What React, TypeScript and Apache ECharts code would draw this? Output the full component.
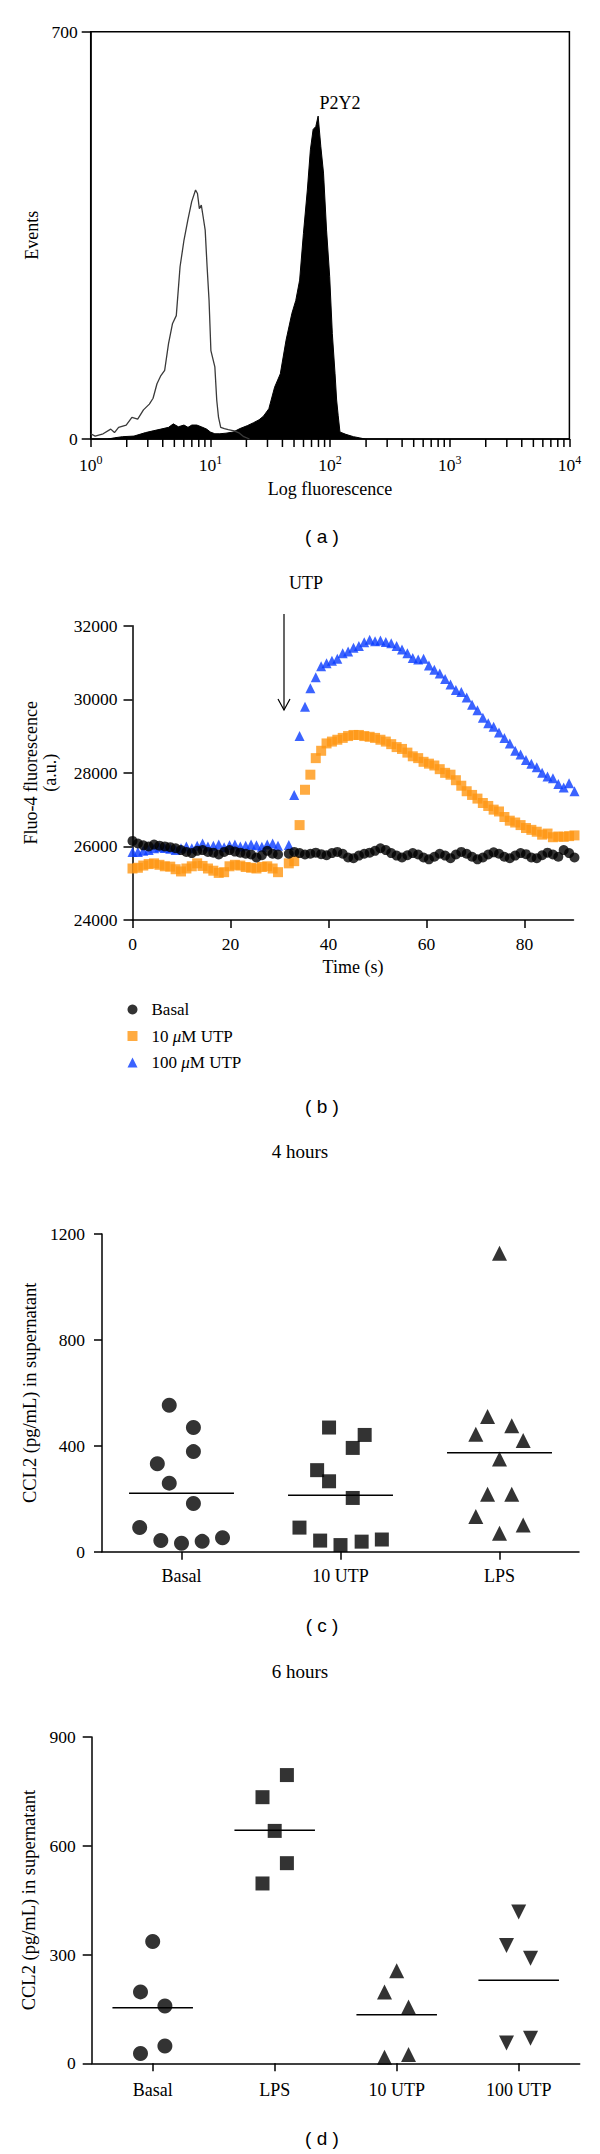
import React, { useEffect, useRef } from "react";
import * as echarts from "echarts";

const SERIF = "'Liberation Serif', 'Times New Roman', serif";
const SANS = "'Liberation Sans', Arial, sans-serif";

// ---------- Panel (a): flow cytometry histograms [fluorescence, events] ----------
const isotypeHist: [number, number][] = [
  [1.0, 9], [1.09, 5], [1.27, 9], [1.47, 17], [1.58, 11], [1.71, 20], [1.98, 24], [2.21, 37],
  [2.47, 34], [2.76, 50], [3.09, 60], [3.32, 70], [3.58, 95], [3.86, 109], [4.15, 118], [4.47, 164],
  [4.82, 198], [5.19, 212], [5.58, 296], [6.02, 342], [6.48, 376], [6.98, 408], [7.52, 428], [7.8, 422],
  [8.09, 396], [8.4, 402], [8.7, 382], [9.05, 359], [9.39, 296], [9.75, 238], [10.1, 152], [10.9, 124],
  [11.3, 67], [11.7, 37], [12.2, 20], [13.1, 18], [14.1, 16], [15.8, 14], [17.5, 10], [19.0, 4], [21.2, 0],
];
const p2y2Hist: [number, number][] = [
  [1.4, 0], [1.58, 2], [1.84, 4], [2.3, 5], [2.87, 11], [3.32, 14], [3.86, 17], [4.47, 20], [4.9, 26],
  [5.4, 21], [6.02, 24], [6.5, 20], [7.0, 24], [7.7, 24], [8.4, 21], [9.3, 17], [10.0, 12], [10.9, 9],
  [12.0, 9], [13.5, 10], [15.5, 12], [17.7, 18], [20.4, 23], [22.9, 28], [25.5, 33], [27.7, 39],
  [30.8, 52], [34.4, 89], [38.4, 112], [42.9, 170], [48.0, 216], [51.7, 238], [55.7, 273], [59.9, 353],
  [64.6, 428], [68.5, 497], [72.2, 532], [76.0, 537], [79.5, 555], [83.7, 503], [88.2, 457], [93.5, 359],
  [99.3, 279], [104.5, 181], [110.1, 112], [113.5, 67], [117, 40], [121, 12], [135.5, 8], [157, 4],
  [176, 2], [196, 0],
];
const logDecades = [1, 10, 100, 1000];
const logMinorTicks: number[] = [];
logDecades.forEach((d) => {
  for (let k = 2; k <= 9; k++) logMinorTicks.push(k * d);
});

// ---------- Panel (b): Fluo-4 time course ----------
const TIME_STEP_S = 1.1;
const basalFluo: (number | null)[] = [
  26150, 26080, 26030, 26000, 26050, 26020, 26000, 25980, 25950, 25900,
  25850, 25820, 25880, 25900, 25850, 25830, 25780, 25850, 25900, 25860,
  25830, 25800, 25780, 25700, 25760, 25880, 25800, 25780,
  null,
  25800, 25850, 25820, 25780, 25800, 25830, 25790, 25760, 25820, 25850,
  25800, 25700, 25680, 25750, 25800, 25830, 25880, 25950, 25900, 25820,
  25750, 25700, 25760, 25820, 25780, 25700, 25650, 25720, 25800, 25750,
  25680, 25780, 25850, 25800, 25720, 25650, 25700, 25780, 25840, 25800,
  25720, 25680, 25750, 25820, 25790, 25700, 25680, 25760, 25830, 25780,
  25720, 25900, 25820, 25700,
];
const utp10Fluo: (number | null)[] = [
  25400, 25420, 25480, 25520, 25540, 25500, 25460, 25450, 25380, 25320,
  25400, 25460, 25540, 25470, 25400, 25340, 25280, 25300, 25460, 25500,
  25480, 25440, 25420, 25400, 25440, 25460, 25400, 25300,
  null,
  25540, 25600, 26580, 27540, 27950, 28400, 28600, 28800, 28850, 28900,
  28950, 29000, 29030, 29030, 29000, 28980, 28950, 28900, 28850, 28780,
  28700, 28650, 28550, 28450, 28400, 28300, 28250, 28200, 28100, 28000,
  27950, 27800, 27650, 27500, 27400, 27300, 27180, 27100, 27000, 26950,
  26800, 26700, 26650, 26580, 26500, 26450, 26400, 26320, 26350, 26250,
  26270, 26260, 26280, 26300,
];
const utp100Fluo: (number | null)[] = [
  25850, 25850, 25880, 25900, 25950, 25980, 25960, 25940, 25900, 25950,
  26000, 25950, 26020, 26080, 26000, 26020, 26050, 25980, 26030, 26050,
  26000, 26020, 26050, 26030, 25990, 26050, 26080, 26020,
  null,
  26040, 27400, 29000, 29800, 30300, 30600, 30900, 30980, 31050, 31100,
  31250, 31300, 31400, 31450, 31550, 31620, 31580, 31600, 31560, 31520,
  31450, 31350, 31250, 31120, 31080, 31100, 30920, 30800, 30700, 30550,
  30400, 30250, 30200, 30050, 29850, 29700, 29500, 29350, 29250, 29100,
  28950, 28800, 28600, 28500, 28350, 28250, 28150, 28000, 27900, 27850,
  27700, 27600, 27720, 27500,
];
const timeTicks = [0, 20, 40, 60, 80];

// ---------- Panel (c): CCL2 at 4 hours ----------
const cats4h = ["Basal", "10 UTP", "LPS"];
const basal4h = [553, 469, 378, 332, 259, 182, 91, 42, 32, 39, 53];
const basal4hOffset = [-0.077, 0.075, 0.075, -0.152, -0.077, 0.075, -0.263, -0.13, 0, 0.13, 0.258];
const utp4h = [469, 441, 392, 308, 266, 203, 91, 42, 25, 38, 46];
const utp4hOffset = [-0.072, 0.152, 0.077, -0.147, -0.072, 0.077, -0.258, -0.128, 0, 0.133, 0.26];
const lps4h = [1127, 511, 476, 444, 420, 350, 217, 217, 133, 101, 70];
const lps4hOffset = [0, -0.075, 0.077, -0.149, 0.149, 0, -0.075, 0.077, -0.149, 0.149, 0];
const means4h = [221, 213, 374];

// ---------- Panel (d): CCL2 at 6 hours ----------
const cats6h = ["Basal", "LPS", "10 UTP", "100 UTP"];
const basal6h = [336, 197, 158, 48, 27];
const basal6hOffset = [0, -0.1, 0.1, 0.1, -0.1];
const lps6h = [795, 734, 641, 552, 496];
const lps6hOffset = [0.1, -0.1, 0, 0.1, -0.1];
const utp10_6h = [255, 197, 155, 17, 24];
const utp10_6hOffset = [0, -0.1, 0.097, -0.1, 0.097];
const utp100_6h = [417, 325, 290, 56, 69];
const utp100_6hOffset = [0, -0.1, 0.097, -0.1, 0.097];
const means6h = [153, 643, 134, 229];

const MEAN_HALF_WIDTH = 0.33;

const timeSeries = (vals: (number | null)[]) =>
  vals
    .map((v, i) => (v == null ? null : [+(i * TIME_STEP_S).toFixed(2), v]))
    .filter((d) => d !== null);

const dotData = (cat: number, vals: number[], offs: number[]) =>
  vals.map((v, i) => [cat + offs[i], v]);

const meanRender = (params: any, api: any) => {
  const c = api.value(0);
  const m = api.value(1);
  const p1 = api.coord([c - MEAN_HALF_WIDTH, m]);
  const p2 = api.coord([c + MEAN_HALF_WIDTH, m]);
  return {
    type: "line",
    shape: { x1: p1[0], y1: p1[1], x2: p2[0], y2: p2[1] },
    style: { stroke: "#000", lineWidth: 1.5 },
  };
};

const TICK_FS = 17.5;
const NAME_FS = 18;
const axisLineStyle = { show: true, onZero: false, lineStyle: { color: "#000", width: 1.5 } };
const tickStyle = (len: number) => ({ show: true, inside: false, length: len, lineStyle: { color: "#000", width: 1.5 } });
const labelStyle = (margin: number) => ({
  color: "#000", fontFamily: SERIF, fontSize: TICK_FS, margin,
  formatter: (v: any) => String(v),
});
const nameStyle = { color: "#000", fontFamily: SERIF, fontSize: NAME_FS };

const text = (t: string, x: number, y: number, font: string, size: number) => ({
  type: "text",
  x,
  y,
  style: { text: t, fill: "#000", font: `${size}px ${font}`, align: "center", verticalAlign: "middle" },
});

export default function App() {
  const ref = useRef<HTMLDivElement>(null);
  useEffect(() => {
    if (!ref.current) return;
    const chart = echarts.init(ref.current, null, { renderer: "svg" });
    const option: any = {
      animation: false,
      backgroundColor: "#fff",
      textStyle: { fontFamily: SERIF, color: "#000" },
      grid: [
        { left: 90.7, top: 31.7, width: 478.7, height: 407.3, show: true, borderColor: "#000", borderWidth: 1.5, containLabel: false, outerBoundsMode: "none" },
        { left: 132.5, top: 625.7, width: 441, height: 294.3, containLabel: false, outerBoundsMode: "none" },
        { left: 102, top: 1234, width: 477, height: 317.7, containLabel: false, outerBoundsMode: "none" },
        { left: 91.7, top: 1737, width: 488, height: 326.3, containLabel: false, outerBoundsMode: "none" },
      ],
      xAxis: [
        {
          gridIndex: 0, type: "log", logBase: 10, min: 1, max: 10000,
          axisLine: axisLineStyle, axisTick: tickStyle(8), splitLine: { show: false },
          axisLabel: {
            color: "#000", margin: 15,
            formatter: (v: number) => `{b|10}{s|${Math.round(Math.log10(v))}}`,
            rich: {
              b: { fontFamily: SERIF, fontSize: TICK_FS, color: "#000", lineHeight: 22 },
              s: { fontFamily: SERIF, fontSize: 12, color: "#000", verticalAlign: "top", lineHeight: 12 },
            },
          },
          name: "Log fluorescence", nameLocation: "middle", nameGap: 41, nameTextStyle: nameStyle,
        },
        {
          gridIndex: 1, type: "value", min: 0, max: 90, interval: 20,
          axisLine: axisLineStyle,
          axisTick: { ...tickStyle(8), customValues: timeTicks },
          axisLabel: { ...labelStyle(15), customValues: timeTicks },
          splitLine: { show: false },
          name: "Time (s)", nameLocation: "middle", nameGap: 38, nameTextStyle: nameStyle,
        },
        {
          gridIndex: 2, type: "category", data: cats4h, boundaryGap: true,
          axisLine: axisLineStyle, axisTick: { ...tickStyle(8), alignWithLabel: true },
          axisLabel: { ...labelStyle(15), fontSize: NAME_FS }, splitLine: { show: false },
        },
        { gridIndex: 2, type: "value", min: -0.5, max: 2.5, show: false },
        {
          gridIndex: 3, type: "category", data: cats6h, boundaryGap: true,
          axisLine: axisLineStyle, axisTick: { ...tickStyle(8), alignWithLabel: true },
          axisLabel: { ...labelStyle(18), fontSize: NAME_FS }, splitLine: { show: false },
        },
        { gridIndex: 3, type: "value", min: -0.5, max: 3.5, show: false },
      ],
      yAxis: [
        {
          gridIndex: 0, type: "value", min: 0, max: 700, interval: 700,
          axisLine: axisLineStyle, axisTick: tickStyle(9), axisLabel: labelStyle(13), splitLine: { show: false },
          name: "Events", nameLocation: "middle", nameGap: 50, nameTextStyle: nameStyle,
        },
        {
          gridIndex: 1, type: "value", min: 24000, max: 32000, interval: 2000,
          axisLine: axisLineStyle, axisTick: tickStyle(9), axisLabel: labelStyle(15), splitLine: { show: false },
          name: "Fluo-4 fluorescence\n(a.u.)", nameLocation: "middle", nameGap: 73,
          nameTextStyle: { ...nameStyle, lineHeight: 19 },
        },
        {
          gridIndex: 2, type: "value", min: 0, max: 1200, interval: 400,
          axisLine: axisLineStyle, axisTick: tickStyle(8), axisLabel: labelStyle(17), splitLine: { show: false },
          name: "CCL2 (pg/mL) in supernatant", nameLocation: "middle", nameGap: 62, nameTextStyle: { ...nameStyle, fontSize: 18.5 },
        },
        {
          gridIndex: 3, type: "value", min: 0, max: 900, interval: 300,
          axisLine: axisLineStyle, axisTick: tickStyle(9), axisLabel: labelStyle(16), splitLine: { show: false },
          name: "CCL2 (pg/mL) in supernatant", nameLocation: "middle", nameGap: 52, nameTextStyle: { ...nameStyle, fontSize: 18.5 },
        },
      ],
      legend: {
        data: ["Basal", "10 μM UTP", "100 μM UTP"],
        orient: "vertical", left: 122.5, top: 995, itemWidth: 10, itemHeight: 10, itemGap: 7.5,
        selectedMode: false,
        formatter: (name: string) => name.replace("μ", "{i|μ}"),
        textStyle: {
          fontFamily: SERIF, fontSize: 17, color: "#000", padding: [0, 0, 0, 9], lineHeight: 19,
          rich: { i: { fontFamily: SERIF, fontSize: 17, fontStyle: "italic", color: "#000", lineHeight: 19 } },
        },
      },
      series: [
        // panel a
        {
          type: "line", xAxisIndex: 0, yAxisIndex: 0, data: p2y2Hist, symbol: "none", silent: true,
          lineStyle: { color: "#000", width: 1 }, areaStyle: { color: "#000", opacity: 1 },
        },
        {
          type: "line", xAxisIndex: 0, yAxisIndex: 0, data: isotypeHist, symbol: "none", silent: true,
          lineStyle: { color: "#3a3a3a", width: 1.3 },
        },
        {
          type: "custom", xAxisIndex: 0, yAxisIndex: 0, silent: true,
          data: logMinorTicks.map((v) => [v, 0]),
          encode: { x: 0, y: 1 },
          renderItem: (params: any, api: any) => {
            const p = api.coord([api.value(0), 0]);
            return {
              type: "line",
              shape: { x1: p[0], y1: p[1], x2: p[0], y2: p[1] + 8 },
              style: { stroke: "#000", lineWidth: 1.5 },
            };
          },
        },
        // panel b
        {
          name: "10 μM UTP", type: "scatter", xAxisIndex: 1, yAxisIndex: 1, data: timeSeries(utp10Fluo),
          symbol: "rect", symbolSize: 10, itemStyle: { color: "#ff9612" }, clip: false,
        },
        {
          name: "100 μM UTP", type: "scatter", xAxisIndex: 1, yAxisIndex: 1, data: timeSeries(utp100Fluo),
          symbol: "triangle", symbolSize: 10, itemStyle: { color: "#0a3cff" }, clip: false,
        },
        {
          name: "Basal", type: "scatter", xAxisIndex: 1, yAxisIndex: 1, data: timeSeries(basalFluo),
          symbol: "circle", symbolSize: 10, itemStyle: { color: "#000" }, clip: false,
        },
        // panel c
        { type: "scatter", xAxisIndex: 3, yAxisIndex: 2, data: dotData(0, basal4h, basal4hOffset), symbol: "circle", symbolSize: 15, itemStyle: { color: "#000" } },
        { type: "scatter", xAxisIndex: 3, yAxisIndex: 2, data: dotData(1, utp4h, utp4hOffset), symbol: "rect", symbolSize: 14, itemStyle: { color: "#000" } },
        { type: "scatter", xAxisIndex: 3, yAxisIndex: 2, data: dotData(2, lps4h, lps4hOffset), symbol: "triangle", symbolSize: 15, itemStyle: { color: "#000" } },
        {
          type: "custom", xAxisIndex: 3, yAxisIndex: 2, silent: true,
          data: means4h.map((m, i) => [i, m]), encode: { x: 0, y: 1 }, renderItem: meanRender,
        },
        // panel d
        { type: "scatter", xAxisIndex: 5, yAxisIndex: 3, data: dotData(0, basal6h, basal6hOffset), symbol: "circle", symbolSize: 15, itemStyle: { color: "#000" } },
        { type: "scatter", xAxisIndex: 5, yAxisIndex: 3, data: dotData(1, lps6h, lps6hOffset), symbol: "rect", symbolSize: 14, itemStyle: { color: "#000" } },
        { type: "scatter", xAxisIndex: 5, yAxisIndex: 3, data: dotData(2, utp10_6h, utp10_6hOffset), symbol: "triangle", symbolSize: 15, itemStyle: { color: "#000" } },
        { type: "scatter", xAxisIndex: 5, yAxisIndex: 3, data: dotData(3, utp100_6h, utp100_6hOffset), symbol: "triangle", symbolRotate: 180, symbolSize: 15, itemStyle: { color: "#000" } },
        {
          type: "custom", xAxisIndex: 5, yAxisIndex: 3, silent: true,
          data: means6h.map((m, i) => [i, m]), encode: { x: 0, y: 1 }, renderItem: meanRender,
        },
      ],
      graphic: [
        text("P2Y2", 340, 103, SERIF, 18),
        text("( a )", 322, 536, SANS, 19),
        text("UTP", 306, 583, SERIF, 18),
        { type: "line", shape: { x1: 284, y1: 614, x2: 284, y2: 710 }, style: { stroke: "#000", lineWidth: 1.2 } },
        { type: "polyline", shape: { points: [[278, 699], [284, 710], [290, 699]] }, style: { stroke: "#000", lineWidth: 1.2, fill: null } },
        text("( b )", 322, 1106, SANS, 19),
        text("4 hours", 300, 1151, SERIF, 19),
        text("( c )", 322, 1625, SANS, 19),
        text("6 hours", 300, 1671, SERIF, 19),
        text("( d )", 322, 2138, SANS, 19),
      ],
    };
    chart.setOption(option);
    return () => chart.dispose();
  }, []);
  return (
    <div
      ref={ref}
      style={{ position: "absolute", left: 0, top: 0, width: 600, height: 2154, background: "#fff" }}
    />
  );
}
